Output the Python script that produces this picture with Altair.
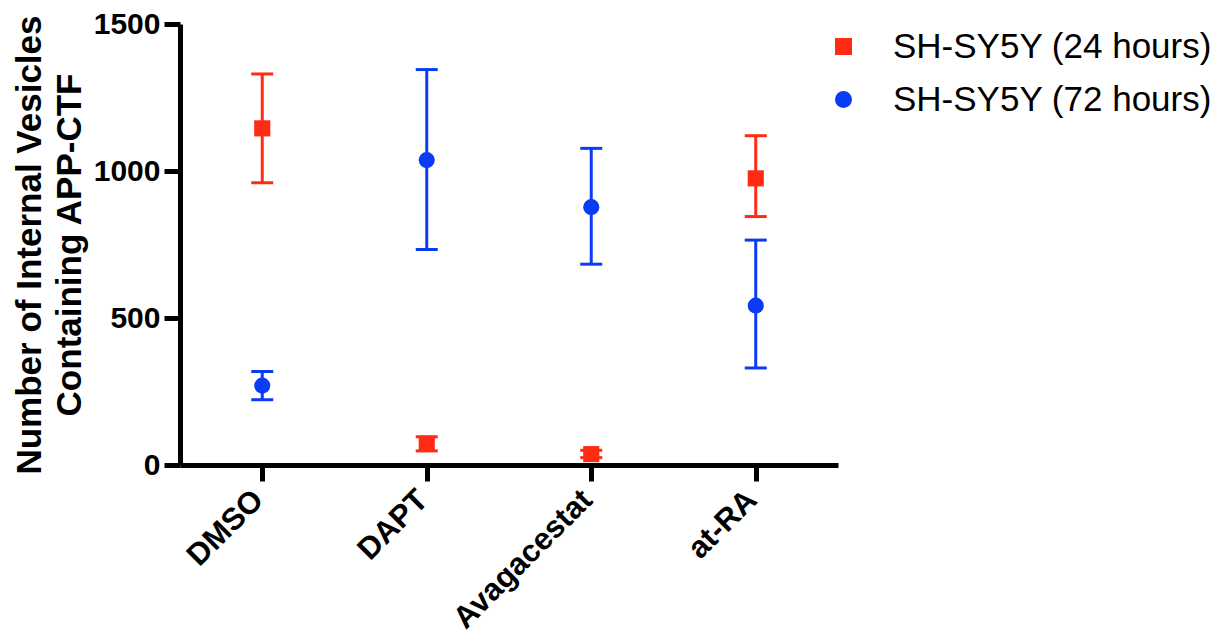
import altair as alt
import pandas as pd

categories = ["DMSO", "DAPT", "Avagacestat", "at-RA"]
series = ["SH-SY5Y (24 hours)", "SH-SY5Y (72 hours)"]

mean_24 = [1145, 72, 37, 975]
low_24 = [960, 48, 25, 845]
high_24 = [1330, 96, 50, 1120]

mean_72 = [270, 1037, 877, 542]
low_72 = [222, 733, 683, 330]
high_72 = [318, 1345, 1077, 765]

colors = ["#FF2B12", "#0B3BF5"]
shapes = ["square", "circle"]

rows = []
for i, c in enumerate(categories):
    rows.append({"cat": c, "series": series[0], "mean": mean_24[i], "lo": low_24[i], "hi": high_24[i]})
    rows.append({"cat": c, "series": series[1], "mean": mean_72[i], "lo": low_72[i], "hi": high_72[i]})
df = pd.DataFrame(rows)

FONT = "Liberation Sans"

x = alt.X(
    "cat:N",
    sort=categories,
    scale=alt.Scale(type="point", padding=0.5),
    axis=alt.Axis(
        title=None,
        labelAngle=-45,
        labelAlign="right",
        labelBaseline="middle",
        labelFontSize=31,
        labelPadding=14,
        labelLimit=0,
        labelOffset=-4,
    ),
)
y_scale = alt.Scale(domain=[0, 1500], nice=False, zero=True)
color = alt.Color(
    "series:N",
    scale=alt.Scale(domain=series, range=colors),
    legend=alt.Legend(
        title=None,
        orient="none",
        legendX=646,
        legendY=5,
        labelFontSize=35,
        labelFont=FONT,
        labelColor="black",
        labelOffset=32,
        labelLimit=0,
        symbolSize=289,
        symbolStrokeWidth=0,
        rowPadding=17,
        padding=0,
    ),
)
shape = alt.Shape("series:N", scale=alt.Scale(domain=series, range=shapes))

base = alt.Chart(df)

rules = base.mark_rule(strokeWidth=3).encode(
    x=x,
    y=alt.Y("lo:Q", scale=y_scale),
    y2="hi:Q",
    color=color,
)
cap_lo = base.mark_tick(size=22, thickness=3, opacity=1).encode(
    x=x, y=alt.Y("lo:Q", scale=y_scale), color=color
)
cap_hi = base.mark_tick(size=22, thickness=3, opacity=1).encode(
    x=x, y=alt.Y("hi:Q", scale=y_scale), color=color
)
points = base.mark_point(filled=True, opacity=1, size=260).encode(
    x=x,
    y=alt.Y(
        "mean:Q",
        scale=y_scale,
        axis=alt.Axis(
            title=["Number of Internal Vesicles", "Containing APP-CTF"],
            values=[0, 500, 1000, 1500],
            format="d",
            grid=False,
            labelFontSize=30,
            titleFontSize=35,
            titleLineHeight=40,
            titlePadding=6,
            labelPadding=4,
        ),
    ),
    color=color,
    shape=shape,
)

chart = (
    alt.layer(rules, cap_lo, cap_hi, points)
    .properties(
        width=658,
        height=441,
        autosize=alt.AutoSizeParams(type="none"),
        padding={"left": 172, "top": 16, "right": 379, "bottom": 170},
    )
    .configure_view(stroke=None)
    .configure_axis(
        domainColor="black",
        domainWidth=5,
        tickColor="black",
        tickWidth=5,
        tickSize=16,
        labelColor="black",
        titleColor="black",
        labelFont=FONT,
        titleFont=FONT,
        labelFontWeight="bold",
        titleFontWeight="bold",
    )
)

chart.save("out.html", embed_options={"renderer": "svg", "actions": False})
